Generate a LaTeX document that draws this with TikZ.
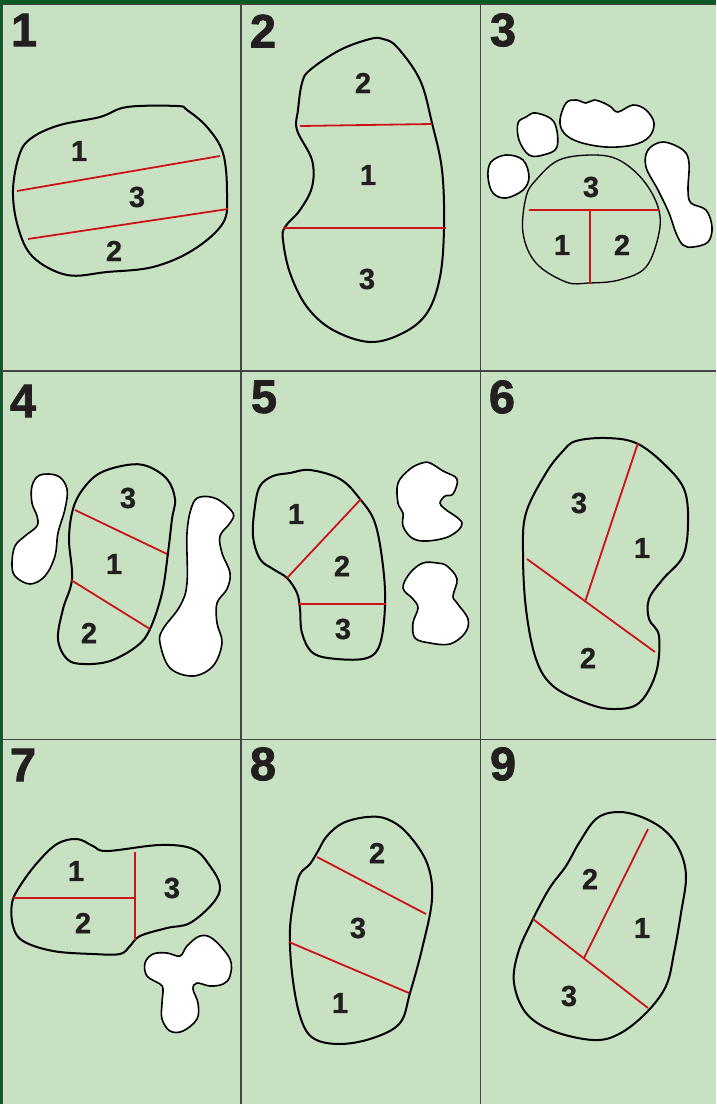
\documentclass[tikz,border=0pt]{standalone}
\usepackage{fontspec}
\setmainfont{Liberation Sans}
\newfontfamily\heavyfont[FakeBold=1.6]{Liberation Sans Bold}
\newfontfamily\labfont[FakeBold=0.8]{Liberation Sans Bold}
\definecolor{bg}{HTML}{C8E1C2}
\definecolor{dkgreen}{HTML}{0B5A24}
\definecolor{gridc}{HTML}{444444}
\definecolor{cutred}{HTML}{CC1418}
\definecolor{ink}{HTML}{231F20}
\begin{document}
\begin{tikzpicture}[x=1pt,y=-1pt,
  outl/.style={draw=black,line width=2pt,line join=round},
  outlthin/.style={draw=black,line width=1.3pt,line join=round},
  bunker/.style={draw=black,fill=white,line width=1.6pt,line join=round},
  cut/.style={draw=cutred,line width=1.8pt},
  lab/.style={font=\labfont\fontsize{29}{29}\selectfont,text=ink,inner sep=0pt},
  pnum/.style={font=\heavyfont\fontsize{47}{47}\selectfont,text=ink,inner sep=0pt},
  gridline/.style={draw=gridc,line width=1.4pt}]
\useasboundingbox (0,0) rectangle (716,1104);
\fill[bg] (0,0) rectangle (716,1104);
% frame
\fill[dkgreen] (0,0) rectangle (716,4);
\draw[gridc,line width=1pt] (0,4.5) -- (716,4.5);
\fill[dkgreen] (0,0) rectangle (2,1104);
\draw[gridc,line width=1pt] (2.5,4) -- (2.5,1104);
\draw[gridline] (241,4) -- (241,1104);
\draw[gridline] (480.5,4) -- (480.5,1104);
\draw[gridline] (2,371) -- (716,371);
\draw[gridline] (2,739.5) -- (716,739.5);
% panel numbers
\node[pnum] (n1) at (24,30) {1};
\node[pnum] (n2) at (263,31) {2};
\node[pnum] (n3) at (503,30) {3};
\node[pnum] (n4) at (23,401) {4};
\node[pnum] (n5) at (264,397) {5};
\node[pnum] (n6) at (502,397) {6};
\node[pnum] (n7) at (23,765) {7};
\node[pnum] (n8) at (263,764) {8};
\node[pnum] (n9) at (503,764) {9};

% ---------- Panel 1
\draw[outl] plot[smooth cycle,tension=0.6] coordinates {(177,106) (127,107) (100,117) (60,125) (33,137) (20,153) (13,190) (18,227) (33,257) (67,275) (107,272) (153,267) (193,250) (223,223) (227,193) (223,153) (207,127) (187,110)};
\draw[cut] (17,191) -- (220,156);
\draw[cut] (28,239) -- (228,209);
\node[lab] (p1a) at (79,151) {1};
\node[lab] (p1b) at (137,197) {3};
\node[lab] (p1c) at (114,251) {2};

% ---------- Panel 2
\draw[outl] plot[smooth cycle,tension=0.6] coordinates {(370,39) (340,50) (310,70) (302,83) (298,110) (297,130) (312,160) (312,187) (300,210) (285,227) (283,240) (290,273) (307,307) (333,330) (370,342) (403,333) (427,313) (440,277) (444,227) (442,170) (432,123) (420,80) (397,47) (383,39)};
\draw[cut] (300,126) -- (432,124);
\draw[cut] (283,228) -- (446,228);
\node[lab] (p2a) at (363,83) {2};
\node[lab] (p2b) at (368,175) {1};
\node[lab] (p2c) at (367,279) {3};

% ---------- Panel 3
\draw[bunker] plot[smooth cycle,tension=0.6] coordinates {(506,155) (523,160) (529,177) (523,190) (506,198) (493,193) (488,177) (491,162)};
\draw[bunker] plot[smooth cycle,tension=0.6] coordinates {(536,113) (554,122) (557,147) (543,155) (529,155) (519,140) (518,123) (526,117)};
\draw[bunker] plot[smooth cycle,tension=0.6] coordinates {(566,103) (576,100) (586,103) (594,100) (604,103) (611,107) (618,112) (633,105) (646,110) (654,123) (649,137) (633,145) (606,147) (579,142) (564,133) (560,120)};
\draw[bunker] plot[smooth cycle,tension=0.6] coordinates {(663,142) (683,150) (689,163) (688,190) (691,203) (706,210) (712,227) (708,242) (693,247) (683,245) (676,233) (669,213) (658,190) (646,167) (648,150)};
\draw[outlthin] plot[smooth cycle,tension=0.6] coordinates {(593,155) (559,160) (536,180) (526,197) (523,233) (536,263) (566,282) (589,283) (619,280) (646,267) (659,233) (658,207) (643,180) (619,160)};
\draw[cut] (529,210) -- (659,210);
\draw[cut] (590,210) -- (590,284);
\node[lab] (p3a) at (591,187) {3};
\node[lab] (p3b) at (562,245) {1};
\node[lab] (p3c) at (622,245) {2};

% ---------- Panel 4
\draw[bunker] plot[smooth cycle,tension=0.6] coordinates {(40,475) (58,476) (67,489) (65,509) (58,533) (55,556) (45,576) (30,584) (15,576) (12,563) (15,546) (25,536) (37,526) (37,516) (32,503) (32,486)};
\draw[bunker] plot[smooth cycle,tension=0.6] coordinates {(200,497) (217,499) (233,513) (230,523) (220,536) (222,553) (230,573) (227,589) (217,603) (217,623) (222,643) (213,666) (193,676) (170,668) (160,643) (163,629) (180,606) (187,583) (187,533) (192,506)};
\draw[outl] plot[smooth cycle,tension=0.6] coordinates {(127,465) (100,473) (83,489) (73,509) (69,539) (72,579) (63,609) (58,639) (67,659) (83,664) (110,661) (137,646) (150,629) (162,593) (168,553) (172,519) (175,499) (167,479) (147,466)};
\draw[cut] (75,510) -- (167,554);
\draw[cut] (71,580) -- (150,629);
\node[lab] (p4a) at (128,498) {3};
\node[lab] (p4b) at (114,564) {1};
\node[lab] (p4c) at (89,633) {2};

% ---------- Panel 5
\draw[bunker] plot[smooth cycle,tension=0.6] coordinates {(422,463) (410,469) (398,483) (398,503) (403,513) (403,526) (412,538) (427,541) (450,536) (462,523) (445,509) (440,503) (445,496) (453,494) (457,479) (443,471) (430,463)};
\draw[bunker] plot[smooth cycle,tension=0.6] coordinates {(423,563) (410,573) (403,588) (413,599) (418,608) (413,623) (415,638) (430,643) (450,644) (465,633) (468,619) (457,603) (453,596) (457,579) (447,566) (437,563)};
\draw[outl] plot[smooth cycle,tension=0.6] coordinates {(290,473) (273,476) (260,486) (255,506) (253,536) (260,559) (273,569) (287,578) (297,593) (300,609) (302,633) (313,653) (337,659) (367,658) (380,644) (385,606) (383,566) (375,523) (360,499) (340,479) (310,470)};
\draw[cut] (287,578) -- (361,499);
\draw[cut] (298,604) -- (386,604);
\node[lab] (p5a) at (296,514) {1};
\node[lab] (p5b) at (342,566) {2};
\node[lab] (p5c) at (343,629) {3};

% ---------- Panel 6
\draw[outl] plot[smooth cycle,tension=0.6] coordinates {(576,441) (606,438) (636,443) (663,463) (684,489) (688,523) (683,556) (663,579) (649,599) (649,619) (659,636) (656,673) (639,703) (613,709) (586,703) (553,686) (536,659) (526,609) (523,553) (526,513) (546,473) (563,451)};
\draw[cut] (638,443) -- (585,602);
\draw[cut] (527,559) -- (655,652);
\node[lab] (p6a) at (579,503) {3};
\node[lab] (p6b) at (642,548) {1};
\node[lab] (p6c) at (588,658) {2};

% ---------- Panel 7
\draw[bunker] plot[smooth cycle,tension=0.6] coordinates {(200,936) (213,939) (230,959) (230,976) (223,984) (210,986) (197,983) (193,989) (198,1003) (197,1019) (183,1031) (170,1031) (162,1019) (162,1003) (163,989) (160,984) (147,976) (145,963) (153,954) (167,953) (180,956) (187,946)};
\draw[outl] plot[smooth cycle,tension=0.6] coordinates {(77,839) (57,844) (37,863) (20,886) (12,903) (13,926) (23,941) (53,951) (93,954) (120,954) (130,946) (140,936) (167,928) (190,923) (213,903) (220,886) (210,866) (193,849) (160,845) (107,851) (93,846)};
\draw[cut] (13,898) -- (135,898);
\draw[cut] (135,852) -- (135,940);
\node[lab] (p7a) at (76,871) {1};
\node[lab] (p7b) at (83,923) {2};
\node[lab] (p7c) at (172,888) {3};

% ---------- Panel 8
\draw[outl] plot[smooth cycle,tension=0.6] coordinates {(367,817) (343,823) (327,836) (318,851) (310,864) (300,874) (295,893) (290,929) (292,973) (300,1016) (313,1038) (340,1044) (373,1038) (400,1023) (410,993) (422,949) (432,899) (427,863) (407,833) (387,819)};
\draw[cut] (317,857) -- (426,914);
\draw[cut] (289,942) -- (409,993);
\node[lab] (p8a) at (377,853) {2};
\node[lab] (p8b) at (358,928) {3};
\node[lab] (p8c) at (340,1003) {1};

% ---------- Panel 9
\draw[outl] plot[smooth cycle,tension=0.6] coordinates {(616,812) (596,819) (579,843) (566,866) (549,889) (531,923) (518,953) (514,983) (526,1013) (553,1031) (593,1040) (619,1034) (646,1013) (666,986) (674,953) (681,913) (686,876) (679,849) (663,829) (639,816)};
\draw[cut] (648,829) -- (584,958);
\draw[cut] (533,919) -- (648,1008);
\node[lab] (p9a) at (590,879) {2};
\node[lab] (p9b) at (642,928) {1};
\node[lab] (p9c) at (569,996) {3};
\end{tikzpicture}
\end{document}
